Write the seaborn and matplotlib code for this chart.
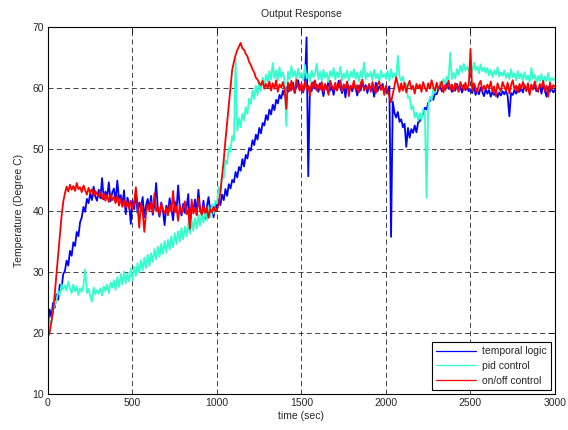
import numpy as np
import pandas as pd
import matplotlib
matplotlib.use("Agg")
import matplotlib.pyplot as plt
import seaborn as sns

# Sample times (sec), one reading every 10 s
time_sec = np.arange(0, 3001, 10)

# Temperature readings (Degree C) for each controller
temporal_logic = [
    21.5, 23.8, 22.6, 24.9, 24.1, 26.3, 25.4, 27.9, 27.2, 29.6,
    30.1, 31.8, 31.0, 33.4, 32.6, 34.8, 34.2, 36.5, 35.8, 38.1,
    38.9, 40.6, 39.8, 41.9, 41.2, 42.8, 41.7, 43.9, 42.3, 41.6,
    43.4, 42.0, 45.3, 41.8, 43.1, 42.2, 44.6, 41.5, 42.9, 43.6,
    41.4, 44.9, 41.9, 42.5, 40.8, 43.3, 39.4, 42.1, 41.2, 37.8,
    41.6, 40.2, 43.1, 39.6, 41.3, 40.4, 42.2, 38.9, 40.8, 41.9,
    40.1, 42.4, 39.3, 41.0, 44.5, 40.2, 39.0, 41.3, 40.0, 37.6,
    40.8, 39.7, 42.0, 40.3, 38.4, 41.5, 39.9, 44.1, 40.4, 39.2,
    41.1, 39.6, 40.5, 42.7, 36.8, 40.9, 40.0, 41.8, 39.5, 43.4,
    40.2, 39.4, 41.6, 38.7, 40.6, 42.2, 39.8, 40.9, 38.9, 41.1,
    40.3, 41.8, 40.9, 42.6, 41.7, 43.5, 42.4, 44.3, 43.6, 45.0,
    44.6, 46.3, 45.4, 47.1, 46.5, 48.4, 47.2, 49.1, 48.5, 50.2,
    49.8, 51.5, 50.7, 52.4, 51.6, 53.5, 52.6, 54.3, 53.9, 55.6,
    54.8, 56.5, 55.7, 57.3, 56.4, 58.1, 57.5, 58.9, 58.3, 59.6,
    58.8, 60.2, 59.4, 60.6, 59.7, 60.9, 59.2, 60.4, 61.3, 59.8,
    60.1, 59.3, 60.7, 68.3, 45.6, 60.2, 59.5, 61.0, 59.9, 60.6,
    59.4, 60.8, 60.0, 58.7, 60.5, 59.8, 61.1, 59.6, 60.3, 58.9,
    60.4, 59.7, 61.2, 60.0, 59.2, 60.6, 58.5, 60.9, 59.8, 60.3,
    59.5, 60.7, 60.1, 58.8, 60.4, 59.6, 61.0, 59.9, 60.5, 59.2,
    60.6, 59.8, 60.2, 58.6, 60.9, 59.5, 60.3, 59.9, 60.7, 59.4,
    60.0, 59.2, 60.3, 35.7, 57.8, 56.0, 55.2, 56.1, 54.5, 54.9,
    53.6, 54.2, 50.4, 53.5, 51.9, 53.3, 52.7, 53.9, 52.8, 54.4,
    54.6, 55.3, 55.9, 56.8, 56.5, 57.6, 57.9, 58.4, 58.1, 59.2,
    59.0, 59.8, 60.4, 59.5, 60.2, 59.7, 60.8, 59.9, 60.3, 59.4,
    60.1, 59.6, 60.7, 59.8, 60.2, 59.3, 60.5, 59.7, 60.0, 59.5,
    59.8, 59.2, 60.4, 58.9, 59.6, 59.0, 60.1, 59.4, 58.7, 59.9,
    59.1, 59.7, 58.6, 59.4, 58.9, 59.6, 58.5, 59.3, 58.8, 59.5,
    59.0, 59.6, 58.7, 55.4, 59.2, 58.9, 59.7, 59.1, 60.2, 59.4,
    60.0, 59.3, 60.5, 59.7, 60.1, 59.2, 60.4, 59.8, 60.6, 59.5,
    59.9, 60.3, 59.1, 60.7, 59.6, 58.6, 60.2, 59.4, 60.0, 59.3,
    59.7,
]

pid_control = [
    20.2, 22.0, 21.5, 23.6, 24.5, 25.3, 26.8, 26.2, 27.9, 27.1,
    27.8, 26.9, 28.4, 27.2, 26.5, 27.9, 26.8, 27.6, 26.2, 27.3,
    26.7, 27.8, 30.4, 26.5, 27.2, 26.0, 25.1, 27.4, 26.3, 27.0,
    26.4, 27.3, 26.1, 27.6, 26.8, 27.9, 26.5, 28.2, 27.4, 28.6,
    27.0, 29.1, 27.5, 29.6, 27.9, 30.0, 28.1, 29.7, 28.4, 30.5,
    28.6, 30.8, 29.3, 31.4, 29.8, 31.9, 30.2, 32.3, 30.6, 32.8,
    30.9, 33.0, 31.6, 33.7, 32.0, 34.1, 32.4, 34.6, 32.9, 35.0,
    33.1, 35.2, 33.6, 35.8, 34.0, 36.3, 34.5, 36.6, 34.9, 37.1,
    35.3, 37.4, 35.8, 38.0, 36.2, 38.4, 36.7, 38.8, 37.1, 39.3,
    37.5, 39.6, 38.0, 40.1, 38.4, 40.6, 38.9, 41.0, 39.5, 41.6,
    41.2, 43.9, 43.1, 45.8, 45.3, 48.2, 47.6, 50.3, 49.6, 52.2,
    51.4, 64.8, 53.0, 55.1, 53.6, 55.8, 54.7, 56.9, 55.8, 58.3,
    57.4, 59.6, 58.2, 60.4, 58.9, 61.1, 59.6, 61.7, 60.3, 62.2,
    61.0, 62.8, 61.4, 64.1, 61.6, 62.9, 61.2, 63.4, 61.8, 62.6,
    61.3, 53.8, 62.7, 61.5, 63.6, 61.9, 62.8, 61.4, 63.2, 61.7,
    62.5, 61.3, 63.8, 61.6, 62.4, 61.1, 62.9, 61.8, 62.3, 64.0,
    61.5, 62.7, 61.2, 63.0, 61.7, 62.5, 61.0, 62.8, 61.9, 63.3,
    61.4, 62.6, 61.8, 63.5, 61.3, 62.4, 61.6, 62.9, 61.2, 62.7,
    61.8, 63.1, 61.5, 62.6, 61.1, 62.8, 61.7, 64.2, 61.4, 62.5,
    61.9, 62.7, 61.3, 63.0, 61.6, 62.4, 61.0, 62.9, 61.8, 62.3,
    61.5, 62.8, 61.2, 63.1, 61.7, 62.4, 61.6, 65.3, 61.9, 61.2,
    61.9, 60.3, 60.7, 58.4, 58.6, 56.5, 57.1, 55.2, 56.0, 54.7,
    55.9, 54.8, 56.6, 55.9, 42.1, 57.0, 58.6, 58.1, 59.9, 59.2,
    60.5, 59.8, 61.0, 60.4, 61.5, 60.7, 61.9, 61.1, 65.8, 61.5,
    62.5, 61.6, 63.1, 62.2, 63.7, 62.6, 64.0, 62.9, 63.5, 62.7,
    63.8, 62.6, 64.2, 62.9, 63.6, 62.4, 63.9, 62.8, 63.4, 62.5,
    63.3, 62.1, 63.0, 61.8, 62.9, 62.2, 63.4, 61.9, 62.6, 62.0,
    62.9, 61.7, 62.5, 61.5, 63.1, 61.8, 62.4, 61.3, 62.8, 61.6,
    62.4, 61.2, 62.6, 61.4, 62.1, 61.0, 63.3, 61.5, 62.2, 60.9,
    62.0, 61.1, 62.3, 60.8, 61.9, 61.2, 62.5, 60.9, 61.7, 61.3,
    61.6,
]

on_off_control = [
    19.3, 20.1, 21.8, 23.5, 26.4, 29.6, 32.8, 36.2, 39.0, 41.4,
    42.8, 43.9, 43.1, 44.2, 43.4, 44.0, 43.2, 44.5, 43.5, 43.8,
    43.0, 44.1, 43.3, 42.6, 43.7, 42.9, 43.5, 42.4, 43.2, 42.7,
    42.3, 43.0, 41.9, 42.8, 41.6, 42.5, 41.4, 42.7, 41.7, 42.2,
    41.2, 42.4, 40.8, 41.9, 40.6, 41.7, 40.5, 41.5, 40.3, 41.6,
    40.2, 41.3, 43.8, 40.9, 37.2, 41.2, 39.8, 36.5, 39.6, 41.0,
    40.0, 41.4, 39.6, 42.8, 39.9, 40.6, 39.3, 41.1, 40.2, 39.5,
    40.4, 39.2, 41.0, 39.8, 43.2, 39.7, 40.6, 38.3, 40.9, 39.6,
    40.3, 41.5, 39.4, 40.2, 37.0, 41.8, 39.5, 40.4, 39.2, 42.0,
    40.1, 39.3, 40.8, 39.6, 40.5, 38.8, 40.2, 39.7, 40.6, 39.9,
    40.2, 40.9, 43.0, 45.6, 48.3, 51.5, 54.4, 57.3, 60.2, 63.0,
    64.3, 65.4, 66.2, 66.8, 67.4, 66.5, 66.3, 65.6, 65.2, 64.3,
    63.8, 63.1, 62.6, 61.7, 61.4, 60.8, 60.5, 61.2, 59.9, 60.7,
    60.0, 61.1, 59.6, 60.8, 59.9, 61.3, 59.4, 60.6, 60.1, 61.0,
    59.7, 56.6, 60.9, 59.5, 61.2, 60.0, 59.3, 61.4, 60.2, 59.6,
    60.8, 59.5, 61.1, 59.9, 60.4, 58.8, 60.9, 60.0, 61.3, 59.6,
    60.5, 59.8, 61.0, 59.4, 60.7, 60.1, 58.9, 61.2, 60.3, 59.7,
    60.9, 59.6, 60.4, 61.3, 59.5, 60.6, 59.9, 61.1, 58.7, 60.4,
    60.1, 61.2, 59.7, 60.5, 59.3, 60.8, 61.4, 59.6, 60.2, 59.8,
    60.7, 59.4, 61.0, 60.0, 59.2, 60.6, 61.1, 59.7, 60.3, 58.9,
    60.4, 59.5, 58.6, 57.7, 59.0, 60.3, 61.8, 60.6, 59.4, 60.8,
    59.6, 60.9, 59.3, 60.5, 61.2, 59.8, 60.4, 59.1, 60.7, 60.0,
    60.6, 59.4, 61.0, 60.1, 59.5, 60.8, 59.9, 61.3, 60.2, 59.6,
    60.9, 59.7, 60.4, 61.1, 59.3, 60.5, 60.0, 61.2, 59.8, 60.6,
    59.5, 60.8, 60.2, 59.4, 61.0, 60.3, 59.7, 60.9, 59.9, 60.5,
    66.4, 59.6, 60.8, 60.1, 59.3, 60.7, 61.2, 59.5, 60.4, 59.8,
    60.6, 59.9, 61.1, 59.4, 60.3, 58.7, 60.8, 60.0, 59.5, 61.0,
    60.2, 59.6, 60.9, 59.1, 60.5, 61.3, 59.8, 60.4, 59.3, 60.7,
    59.9, 61.0, 60.3, 59.5, 60.8, 58.9, 60.6, 59.8, 61.1, 60.0,
    59.4, 60.7, 60.1, 61.2, 59.6, 60.4, 58.6, 60.9, 59.8, 60.5,
    60.2,
]

series_names = ["temporal logic", "pid control", "on/off control"]
series_colors = ["#0000FF", "#33FFCC", "#FF0000"]
x_ticks = [0, 500, 1000, 1500, 2000, 2500, 3000]
y_ticks = [10, 20, 30, 40, 50, 60, 70]

frames = []
for name, vals in zip(series_names, [temporal_logic, pid_control, on_off_control]):
    frames.append(pd.DataFrame({"time": time_sec, "temp": vals, "series": name}))
df = pd.concat(frames, ignore_index=True)

sns.set_style("white")
plt.rcParams["font.family"] = ["Liberation Sans", "DejaVu Sans"]
plt.rcParams["font.size"] = 7.5

fig = plt.figure(figsize=(5.68, 4.30), dpi=100)
ax = fig.add_axes([0.0845, 0.0837, 0.8926, 0.8535])

sns.lineplot(
    data=df, x="time", y="temp", hue="series", hue_order=series_names,
    palette=series_colors, estimator=None, sort=False, linewidth=1.3,
    ax=ax, legend=False,
)

ax.set_xlim(0, 3000)
ax.set_ylim(10, 70)
ax.set_xticks(x_ticks)
ax.set_yticks(y_ticks)
ax.grid(True, color="#222222", linestyle=(0, (6, 4)), linewidth=0.6)
ax.set_axisbelow(True)
ax.tick_params(direction="in", top=True, right=True, length=4, width=0.6,
               labelsize=7.5, color="black", pad=3)
for s in ax.spines.values():
    s.set_color("black")
    s.set_linewidth(0.8)

ax.set_title("Output Response", fontsize=7.5, pad=7)
ax.set_xlabel("time (sec)", fontsize=7.5, labelpad=2)
ax.set_ylabel("Temperature (Degree C)", fontsize=7.5, labelpad=6)

handles = [plt.Line2D([], [], color=c, linewidth=0.9) for c in series_colors]
ax.legend(handles, series_names, loc="lower right", frameon=True, fancybox=False,
          edgecolor="black", framealpha=1, fontsize=7.5, handlelength=3.8,
          handletextpad=0.6, labelspacing=0.45, borderaxespad=0.35,
          borderpad=0.45).get_frame().set_linewidth(0.8)

fig.savefig("out.png", dpi=100)
